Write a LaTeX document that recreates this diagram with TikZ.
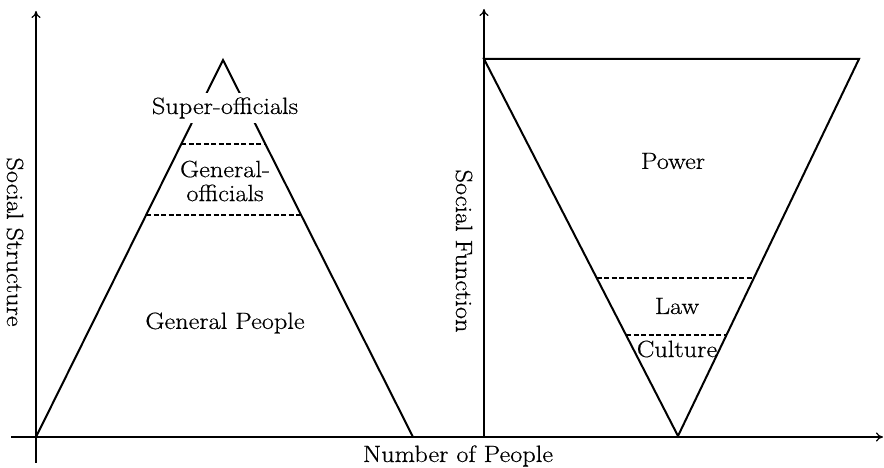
\documentclass[tikz,border=0pt]{standalone}
\usepackage{fontspec}
\setmainfont{Latin Modern Roman}[FakeStretch=1.12,FakeBold=0.6]
\usetikzlibrary{arrows.meta,calc}
\begin{document}
\begin{tikzpicture}[x=1pt,y=-1pt,
  axis/.style={line width=1.5pt,-{To[length=7pt,width=9pt,line width=1.2pt]}},
  tri/.style={line width=2pt,line join=miter},
  sep/.style={line width=1.2pt,dash pattern=on 5pt off 2.5pt},
  lbl/.style={font=\fontsize{23.5}{25}\selectfont,inner sep=1pt},
  vlbl/.style={font=\fontsize{23.5}{25}\selectfont,rotate=-90,inner sep=1pt}]
\useasboundingbox (0,0) rectangle (884,468);
% axes
\coordinate (O1) at (36,437);
\coordinate (Y1top) at (36,11);
\coordinate (Y1bot) at (36,463);
\coordinate (Xstart) at (11,437);
\coordinate (Xend) at (883,437);
\coordinate (O2) at (484,437);
\coordinate (Y2top) at (484,9);
\draw[line width=1.5pt] (O1) -- (Y1bot);
\draw[axis] (O1) -- (Y1top);
\draw[axis] (Xstart) -- (Xend);
\draw[axis] (O2) -- (Y2top);
% left triangle
\coordinate (A) at (223,60);
\coordinate (B) at (36,437);
\coordinate (C) at (413,437);
\draw[tri] (B) -- (A) -- (C);
\draw[sep] ($(A)!0.2228!(B)$) -- ($(A)!0.2228!(C)$);
\draw[sep] ($(A)!0.4111!(B)$) -- ($(A)!0.4111!(C)$);
% right inverted triangle
\coordinate (D) at (484,59);
\coordinate (E) at (859,59);
\coordinate (F) at (678,436);
\draw[tri] (F) -- (D) -- (E) -- cycle;
\draw[sep] ($(D)!0.5809!(F)$) -- ($(E)!0.5809!(F)$);
\draw[sep] ($(D)!0.7321!(F)$) -- ($(E)!0.7321!(F)$);
% labels
\node[lbl,fill=white,inner xsep=1pt,inner ysep=4pt] (super) at (225,108) {Super-officials};
\node[lbl,align=center,font=\fontsize{23.5}{24}\selectfont] (genoff) at (225,181) {General-\\officials};
\node[lbl] (genpeople) at (225,323) {General People};
\node[lbl] (power) at (673,161) {Power};
\node[lbl] (law) at (677,306) {Law};
\node[lbl] (culture) at (677,349) {Culture};
\node[vlbl] (sstruct) at (15,242) {Social Structure};
\node[vlbl] (sfunc) at (464,251) {Social Function};
\node[lbl] (numpeople) at (458,456) {Number of People};
\end{tikzpicture}
\end{document}
